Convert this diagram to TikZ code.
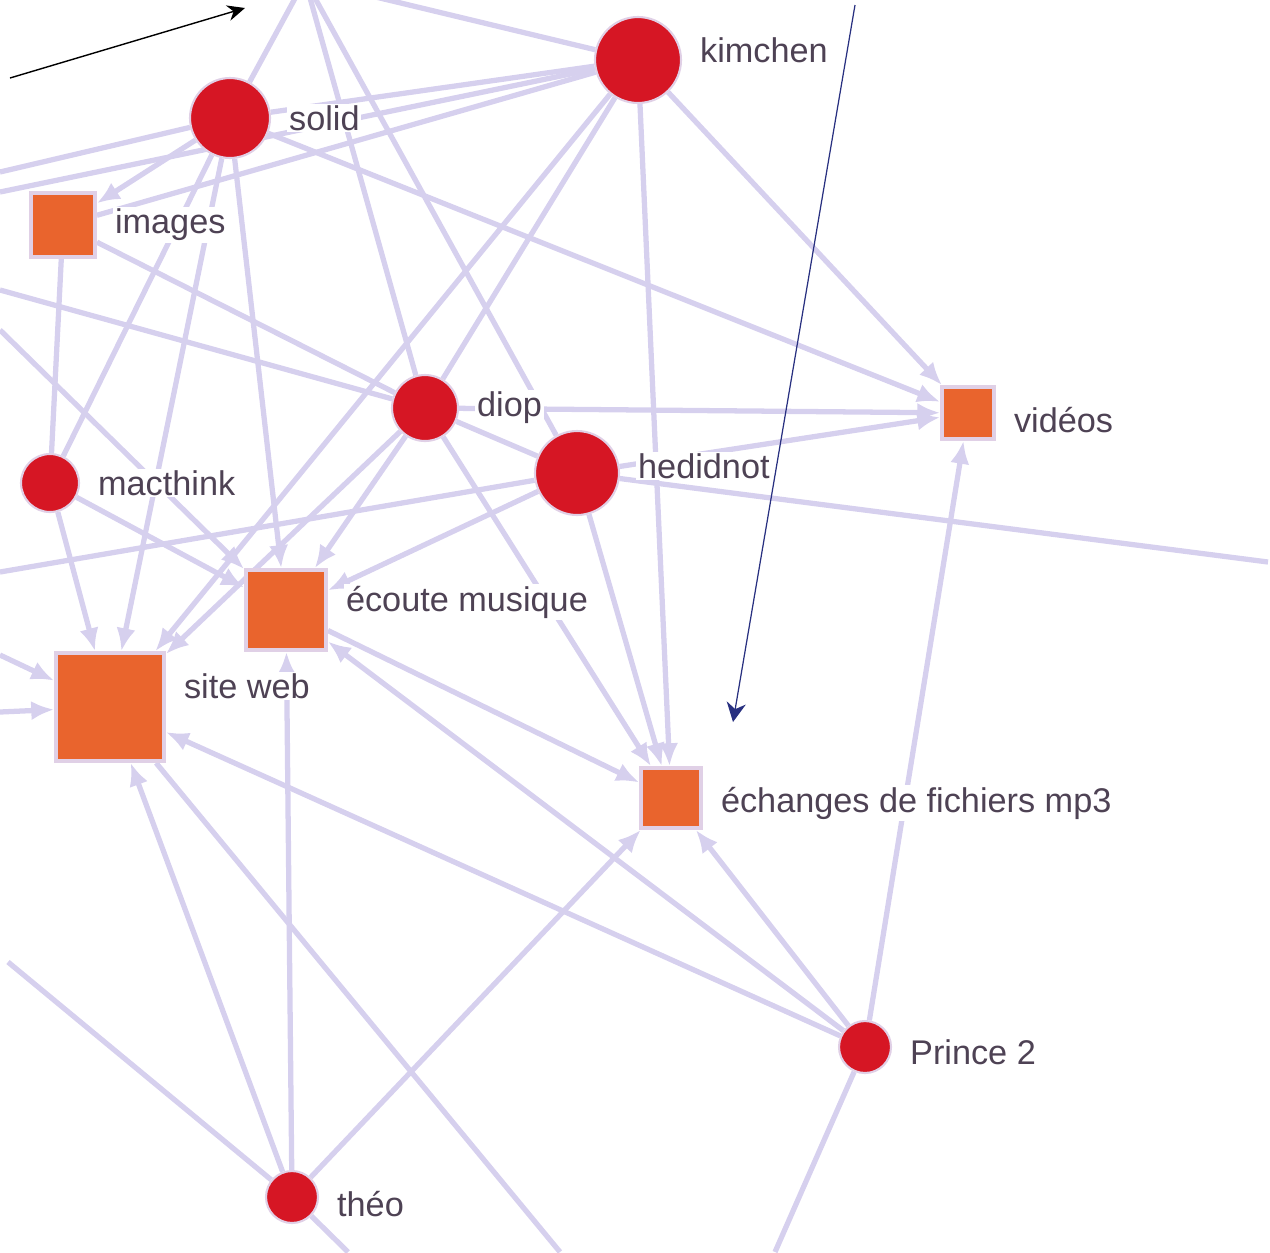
\documentclass[tikz,border=0pt]{standalone}
\usepackage{fontspec}
\setmainfont{Liberation Sans}
\usepackage{tikz}
\usetikzlibrary{arrows.meta, positioning, backgrounds}
\definecolor{rouge}{RGB}{214,22,36}
\definecolor{orange}{RGB}{233,100,45}
\definecolor{lilas}{RGB}{214,208,238}
\definecolor{cadre}{RGB}{224,208,230}
\definecolor{gristexte}{RGB}{78,66,84}
\definecolor{bleunuit}{RGB}{40,48,128}
\tikzset{
  personne/.style={circle, fill=rouge, draw=cadre, line width=1.2pt, inner sep=0pt},
  sujet/.style={rectangle, fill=orange, draw=cadre, line width=2.2pt, inner sep=0pt},
  etiq/.style={font=\fontsize{19.5}{22}\selectfont, text=gristexte, fill=white, inner sep=1pt},
  lien/.style={line width=3pt, color=lilas},
  fleche/.style={lien, -{Latex[length=13pt,width=11pt]}}
}

\begin{document}
\begin{tikzpicture}[x=0.02cm, y=-0.02cm, node distance=0.32cm]
  \useasboundingbox (0,0) rectangle (1270,1252);

  % personnes
  \node[personne, minimum size=1.6cm] (solid) at (230,118) {};
  \node[personne, minimum size=1.72cm] (kimchen) at (638,60) {};
  \node[personne, minimum size=1.32cm] (diop) at (425,408) {};
  \node[personne, minimum size=1.68cm] (hedidnot) at (577,473) {};
  \node[personne, minimum size=1.16cm] (macthink) at (50,483) {};
  \node[personne, minimum size=1.04cm] (prince) at (865,1047) {};
  \node[personne, minimum size=1.04cm] (theo) at (292,1197) {};

  % sujets
  \node[sujet, minimum size=1.28cm] (images) at (63,225) {};
  \node[sujet, minimum size=1.04cm] (videos) at (968,413) {};
  \node[sujet, minimum size=1.6cm] (ecoute) at (286,610) {};
  \node[sujet, minimum size=2.16cm] (siteweb) at (110,707) {};
  \node[sujet, minimum size=1.2cm] (echanges) at (671,798) {};

  % bouts hors cadre
  \coordinate (haut) at (305,-20);
  \coordinate (g1) at (0,172);
  \coordinate (g2) at (0,192);
  \coordinate (g3) at (0,290);
  \coordinate (g4) at (0,330);
  \coordinate (g5) at (0,572);
  \coordinate (g6) at (0,655);
  \coordinate (g7) at (0,712);
  \coordinate (g8) at (8,962);
  \coordinate (d1) at (1268,562);
  \coordinate (b1) at (560,1252);
  \coordinate (b2) at (775,1252);
  \coordinate (b3) at (348,1252);

  % liens
  \begin{scope}[on background layer]
  \draw[lien] (haut) -- (solid);
  \draw[lien] (haut) -- (diop);
  \draw[lien] (haut) -- (hedidnot);
  \draw[lien] (haut) -- (kimchen);
  \draw[lien] (solid) -- (kimchen);
  \draw[lien] (g1) -- (solid);
  \draw[lien] (g2) -- (kimchen);
  \draw[lien] (images) -- (kimchen);
  \draw[fleche] (solid) -- (images);
  \draw[lien] (solid) -- (macthink);
  \draw[fleche] (solid) -- (siteweb);
  \draw[fleche] (solid) -- (ecoute);
  \draw[fleche] (solid) -- (videos);
  \draw[fleche] (kimchen) -- (videos);
  \draw[fleche] (kimchen) -- (echanges);
  \draw[lien] (kimchen) -- (diop);
  \draw[fleche] (kimchen) -- (siteweb);
  \draw[lien] (images) -- (diop);
  \draw[lien] (g3) -- (diop);
  \draw[lien] (images) -- (macthink);
  \draw[fleche] (macthink) -- (siteweb);
  \draw[fleche] (macthink) -- (ecoute);
  \draw[fleche] (g4) -- (ecoute);
  \draw[fleche] (diop) -- (videos);
  \draw[lien] (diop) -- (hedidnot);
  \draw[fleche] (diop) -- (echanges);
  \draw[fleche] (diop) -- (ecoute);
  \draw[fleche] (diop) -- (siteweb);
  \draw[fleche] (hedidnot) -- (videos);
  \draw[fleche] (hedidnot) -- (echanges);
  \draw[fleche] (hedidnot) -- (ecoute);
  \draw[lien] (hedidnot) -- (d1);
  \draw[lien] (hedidnot) -- (g5);
  \draw[fleche] (ecoute) -- (echanges);
  \draw[fleche] (g6) -- (siteweb);
  \draw[fleche] (g7) -- (siteweb);
  \draw[fleche] (prince) -- (siteweb);
  \draw[fleche] (prince) -- (echanges);
  \draw[fleche] (prince) -- (ecoute);
  \draw[fleche] (prince) -- (videos);
  \draw[lien] (prince) -- (b2);
  \draw[fleche] (theo) -- (siteweb);
  \draw[fleche] (theo) -- (echanges);
  \draw[fleche] (theo) -- (ecoute);
  \draw[lien] (theo) -- (b3);
  \draw[lien] (g8) -- (theo);
  \draw[lien] (siteweb) -- (b1);
  \end{scope}

  % fleches fines
  \coordinate (noirA) at (10,78);
  \coordinate (noirB) at (245,8);
  \draw[-{Stealth[length=10pt,width=9pt]}, line width=0.8pt, black] (noirA) -- (noirB);
  \coordinate (bleuA) at (855,5);
  \coordinate (bleuB) at (733,722);
  \draw[-{Stealth[length=11pt,width=11pt]}, line width=0.7pt, bleunuit] (bleuA) -- (bleuB);

  % etiquettes
  \node[etiq, right=of solid] (lsolid) {solid};
  \node[etiq, right=of kimchen, yshift=0.2cm] (lkimchen) {kimchen};
  \node[etiq, right=of images] (limages) {images};
  \node[etiq, right=of diop] (ldiop) {diop};
  \node[etiq, right=of hedidnot, yshift=0.14cm] (lhedidnot) {hedidnot};
  \node[etiq, right=of macthink] (lmacthink) {macthink};
  \node[etiq, right=of videos, yshift=-0.14cm] (lvideos) {vidéos};
  \node[etiq, right=of ecoute, yshift=0.16cm] (lecoute) {écoute musique};
  \node[etiq, right=of siteweb, yshift=0.42cm] (lsiteweb) {site web};
  \node[etiq, right=of echanges, yshift=-0.1cm] (lechanges) {échanges de fichiers mp3};
  \node[etiq, right=of prince, yshift=-0.1cm] (lprince) {Prince 2};
  \node[etiq, right=of theo, yshift=-0.14cm] (ltheo) {théo};
\end{tikzpicture}
\end{document}
